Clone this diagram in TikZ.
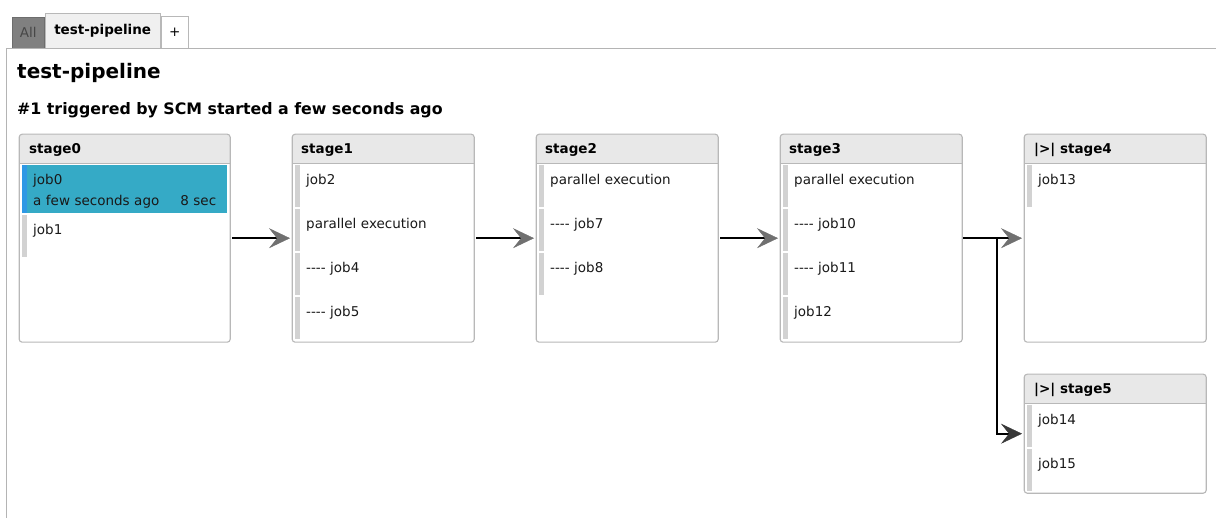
\documentclass[tikz,border=0pt]{standalone}
\usepackage{fontspec}
\newfontfamily\uifont{DejaVu Sans}
\usetikzlibrary{arrows.meta,positioning}
\definecolor{boxgray}{HTML}{B8B8B8}
\definecolor{headgray}{HTML}{E8E8E8}
\definecolor{bargray}{HTML}{D2D2D2}
\definecolor{panelgray}{HTML}{B4B4B4}
\definecolor{runblue}{HTML}{35AAC6}
\definecolor{runbar}{HTML}{2E98E4}
\definecolor{tipgray}{HTML}{707070}
\definecolor{tabgray}{HTML}{808080}

\begin{document}
\begin{tikzpicture}[x=1pt,y=-1pt,
    bar color/.initial=bargray,
    stage/.style={fill=white,rounded corners=3pt,anchor=north west,
        inner sep=0pt,minimum width=182pt,postaction={draw=boxgray,line width=1.1pt},
        path picture={\fill[headgray,sharp corners] (path picture bounding box.north west)
            rectangle ([yshift=-29pt]path picture bounding box.north east);
          \draw[boxgray,sharp corners] ([yshift=-29pt]path picture bounding box.north west)
            -- ([yshift=-29pt]path picture bounding box.north east);}},
    head/.style={anchor=base west,inner sep=0pt,font=\uifont\bfseries\fontsize{13.5}{16}\selectfont},
    job/.style={anchor=north west,fill=white,inner xsep=11pt,inner ysep=6pt,
        text height=13pt,text depth=17pt,text width=154pt,align=left,text=black!90,
        font=\uifont\fontsize{13.5}{21}\selectfont,
        path picture={\fill[\pgfkeysvalueof{/tikz/bar color}] (path picture bounding box.south west)
            rectangle ([xshift=5pt]path picture bounding box.north west);}},
    tab/.style={anchor=north west,inner sep=0pt,font=\uifont\fontsize{13.5}{16}\selectfont},
    flow/.style={line width=2pt,-{Stealth[length=21pt,width=20pt,inset=8pt,color=tipgray,line width=0.4pt]}}]

    \useasboundingbox (0,0) rectangle (1216,518);

    % the tabs and the panel
    \node[tab,fill=tabgray,draw=tabgray!85!black,minimum width=32pt,minimum height=31pt,text=black!72] (all) at (12,17) {All};
    \node[tab,fill=black!6,draw=boxgray,minimum width=115pt,minimum height=35pt,font=\uifont\bfseries\fontsize{13.5}{16}\selectfont] (current) at (45,13) {test-pipeline};
    \node[tab,fill=white,draw=boxgray,minimum width=27pt,minimum height=32pt] (add) at (161,16) {+};
    \draw[panelgray] (6,518) -- (6,48) -- (1216,48);

    \node[anchor=base west,inner sep=0pt,font=\uifont\bfseries\fontsize{20}{24}\selectfont] (title) at (17,79) {test-pipeline};
    \node[anchor=base west,inner sep=0pt,font=\uifont\bfseries\fontsize{15.8}{18}\selectfont] (run) at (17,115) {\#1 triggered by SCM started a few seconds ago};

    % stage0
    \node[stage,minimum width=211pt,minimum height=208pt] (s0) at (19,134) {};
    \node[head] (s0h) at (29,154) {stage0};
    \node[job,text width=183pt,minimum height=48pt,text depth=23pt,fill=runblue,bar color=runbar] (j0) at (22,165) {job0\\a few seconds ago\hfill 8 sec};
    \node[job,text width=183pt] (j1) at (22,215) {job1};

    % stage1
    \node[stage,minimum height=208pt] (s1) at (292,134) {};
    \node[head] (s1h) at (301,154) {stage1};
    \node[job] (j2) at (295,165) {job2};
    \node[job] (p1) at (295,209) {parallel execution};
    \node[job] (j4) at (295,253) {---- job4};
    \node[job] (j5) at (295,297) {---- job5};

    % stage2
    \node[stage,minimum height=208pt] (s2) at (536,134) {};
    \node[head] (s2h) at (545,154) {stage2};
    \node[job] (p2) at (539,165) {parallel execution};
    \node[job] (j7) at (539,209) {---- job7};
    \node[job] (j8) at (539,253) {---- job8};

    % stage3
    \node[stage,minimum height=208pt] (s3) at (780,134) {};
    \node[head] (s3h) at (789,154) {stage3};
    \node[job] (p3) at (783,165) {parallel execution};
    \node[job] (j10) at (783,209) {---- job10};
    \node[job] (j11) at (783,253) {---- job11};
    \node[job] (j12) at (783,297) {job12};

    % stage4 and stage5
    \node[stage,minimum height=208pt] (s4) at (1024,134) {};
    \node[head] (s4h) at (1034,154) {|>| stage4};
    \node[job] (j13) at (1027,165) {job13};

    \node[stage,minimum height=119pt] (s5) at (1024,374) {};
    \node[head] (s5h) at (1034,394) {|>| stage5};
    \node[job] (j14) at (1027,405) {job14};
    \node[job] (j15) at (1027,449) {job15};

    % the arrows
    \coordinate (fork) at (997,238);
    \draw[flow] ([xshift=2pt]s0.east) -- ([xshift=-2pt]s1.west);
    \draw[flow] ([xshift=2pt]s1.east) -- ([xshift=-2pt]s2.west);
    \draw[flow] ([xshift=2pt]s2.east) -- ([xshift=-2pt]s3.west);
    \draw[flow] ([xshift=1pt]s3.east) -- ([xshift=-2pt]s4.west);
    \draw[flow,-{Stealth[length=21pt,width=20pt,inset=8pt,color=black!78,line width=0.4pt]}] (fork) |- ([xshift=-2pt]s5.west);

  \end{tikzpicture}
\end{document}
